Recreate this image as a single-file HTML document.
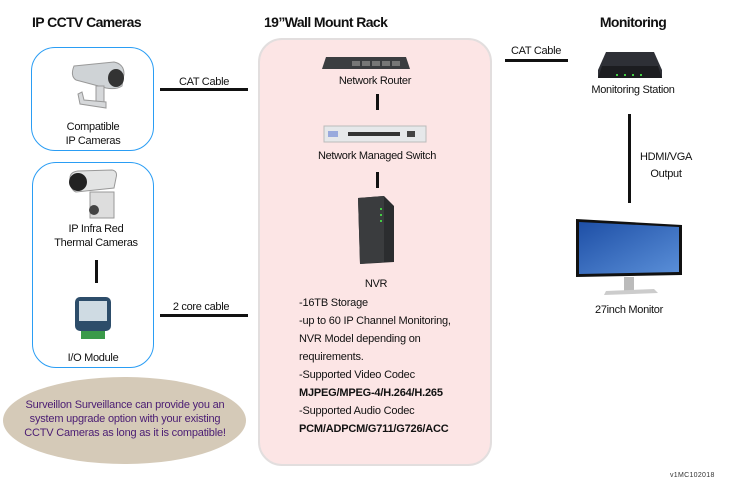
<!DOCTYPE html>
<html><head><meta charset="utf-8"><style>
*{margin:0;padding:0;box-sizing:border-box}
body{width:750px;height:480px;background:#fff;position:relative;overflow:hidden;font-family:"Liberation Sans",sans-serif;color:#111}
.a{position:absolute}
.t{position:absolute;font-size:11px;white-space:nowrap;letter-spacing:-0.3px}
.c{transform:translateX(-50%);text-align:center}
.h{font-weight:bold;font-size:14px;letter-spacing:-0.6px}
.box{position:absolute;border:1.5px solid #2a9df4;border-radius:24px}
.ln{position:absolute;background:#111}
</style></head><body>
<div class="t h" style="left:32px;top:14px">IP CCTV Cameras</div>
<div class="t h" style="left:264px;top:14px">19”Wall Mount Rack</div>
<div class="t h c" style="left:633px;top:14px">Monitoring</div>

<div class="box" style="left:31px;top:47px;width:123px;height:104px"></div>
<div class="box" style="left:32px;top:162px;width:122px;height:206px"></div>

<svg class="a" style="left:66px;top:58px" width="62" height="58" viewBox="0 0 62 58">
<path d="M8 8 L48 4 Q58 6 58 16 L56 28 Q50 32 40 30 L10 22 Q4 18 8 8Z" fill="#cfd3d6" stroke="#999" stroke-width="1"/>
<ellipse cx="50" cy="20" rx="8" ry="9" fill="#333"/>
<rect x="30" y="28" width="8" height="20" fill="#d6d8da" stroke="#999"/>
<path d="M12 36 L14 46 L40 50 L40 44 L18 42 L16 34Z" fill="#d6d8da" stroke="#999"/>
</svg>
<div class="t c" style="left:93px;top:120px;line-height:14px">Compatible<br>IP Cameras</div>

<svg class="a" style="left:66px;top:168px" width="54" height="52" viewBox="0 0 54 52">
<path d="M4 10 Q4 4 12 3 L46 2 Q52 3 50 10 L48 20 L10 24 Q4 22 4 10Z" fill="#e3e4e4" stroke="#999"/>
<circle cx="12" cy="14" r="9" fill="#222"/>
<rect x="24" y="24" width="24" height="26" fill="#ddd" stroke="#999"/>
<circle cx="28" cy="42" r="5" fill="#444"/>
</svg>
<div class="t c" style="left:96px;top:222px;line-height:14px">IP Infra Red<br>Thermal Cameras</div>
<div class="ln" style="left:95px;top:260px;width:3px;height:23px"></div>
<svg class="a" style="left:73px;top:295px" width="40" height="46" viewBox="0 0 40 46">
<rect x="2" y="2" width="36" height="34" rx="5" fill="#2d4d6a"/>
<rect x="6" y="6" width="28" height="20" fill="#cfdbe3"/>
<rect x="8" y="36" width="24" height="8" fill="#3a9a4a"/>
</svg>
<div class="t c" style="left:93px;top:352px">I/O Module</div>

<div class="a" style="left:3px;top:377px;width:243px;height:87px;border-radius:50%;background:#d5cab8"></div>
<div class="t c" style="left:125px;top:398px;line-height:14px;color:#4a1c73;font-size:11px;letter-spacing:-0.2px">Surveillon Surveillance can provide you an<br>system upgrade option with your existing<br>CCTV Cameras as long as it is compatible!</div>

<div class="ln" style="left:160px;top:88px;width:88px;height:3px"></div>
<div class="t c" style="left:204px;top:76px">CAT Cable</div>
<div class="ln" style="left:160px;top:314px;width:88px;height:3px"></div>
<div class="t c" style="left:201px;top:301px">2 core cable</div>

<div class="a" style="left:258px;top:38px;width:234px;height:428px;background:#fce5e5;border:2px solid #e2dede;border-radius:24px"></div>
<svg class="a" style="left:322px;top:55px" width="88" height="16" viewBox="0 0 88 16">
<path d="M4 2 L84 2 L88 14 L0 14Z" fill="#3b3d40"/>
<g fill="#777"><rect x="30" y="6" width="8" height="5"/><rect x="40" y="6" width="8" height="5"/><rect x="50" y="6" width="8" height="5"/><rect x="60" y="6" width="8" height="5"/><rect x="70" y="6" width="8" height="5"/></g>
</svg>
<div class="t c" style="left:375px;top:75px">Network Router</div>
<div class="ln" style="left:376px;top:94px;width:3px;height:16px"></div>
<svg class="a" style="left:323px;top:124px" width="104" height="20" viewBox="0 0 104 20">
<rect x="1" y="2" width="102" height="16" fill="#e6e8ea" stroke="#bbb"/>
<rect x="5" y="7" width="10" height="6" fill="#9ad" />
<rect x="25" y="8" width="52" height="4" fill="#333"/>
<rect x="84" y="7" width="8" height="6" fill="#444"/>
</svg>
<div class="t c" style="left:377px;top:150px">Network Managed Switch</div>
<div class="ln" style="left:376px;top:172px;width:3px;height:16px"></div>
<svg class="a" style="left:354px;top:194px" width="44" height="72" viewBox="0 0 44 72">
<path d="M4 4 L30 2 L40 12 L40 68 L6 70 Z" fill="#2b2d2f"/>
<path d="M4 4 L30 2 L30 68 L6 70Z" fill="#3a3c3e"/>
<g fill="#4c4"><rect x="26" y="14" width="2" height="2"/><rect x="26" y="20" width="2" height="2"/><rect x="26" y="26" width="2" height="2"/></g>
</svg>
<div class="t c" style="left:376px;top:278px">NVR</div>
<div class="t" style="left:299px;top:294px;line-height:18px;letter-spacing:-0.2px">-16TB Storage<br>-up to 60 IP Channel Monitoring,<br>NVR Model depending on<br>requirements.<br>-Supported Video Codec<br><b>MJPEG/MPEG-4/H.264/H.265</b><br>-Supported Audio Codec<br><b>PCM/ADPCM/G711/G726/ACC</b></div>

<div class="ln" style="left:505px;top:59px;width:63px;height:3px"></div>
<div class="t" style="left:511px;top:45px">CAT Cable</div>
<svg class="a" style="left:596px;top:50px" width="68" height="30" viewBox="0 0 68 30">
<path d="M10 2 L58 2 L66 20 L66 28 L2 28 L2 20Z" fill="#2e3036"/>
<path d="M6 16 L62 16 L66 28 L2 28Z" fill="#1c1d20"/>
<g fill="#4c4"><rect x="20" y="24" width="2" height="2"/><rect x="28" y="24" width="2" height="2"/><rect x="36" y="24" width="2" height="2"/><rect x="44" y="24" width="2" height="2"/></g>
</svg>
<div class="t c" style="left:633px;top:84px">Monitoring Station</div>
<div class="ln" style="left:628px;top:114px;width:3px;height:89px"></div>
<div class="t c" style="left:666px;top:149px;line-height:17px">HDMI/VGA<br>Output</div>
<svg class="a" style="left:574px;top:217px" width="112" height="80" viewBox="0 0 112 80">
<path d="M2 2 L108 8 L108 58 L2 60Z" fill="#111"/>
<defs><linearGradient id="g" x1="0" y1="0" x2="1" y2="1"><stop offset="0" stop-color="#1e4fa6"/><stop offset="1" stop-color="#5a8fd8"/></linearGradient></defs>
<path d="M5 5 L105 10 L105 55 L5 57Z" fill="url(#g)"/>
<rect x="50" y="60" width="10" height="14" fill="#bbb"/>
<path d="M32 74 L80 72 L84 76 L30 78Z" fill="#ccc"/>
</svg>
<div class="t c" style="left:629px;top:304px">27inch Monitor</div>
<div class="t" style="left:670px;top:472px;font-size:7px;color:#333;letter-spacing:0.3px">v1MC102018</div>
</body></html>
